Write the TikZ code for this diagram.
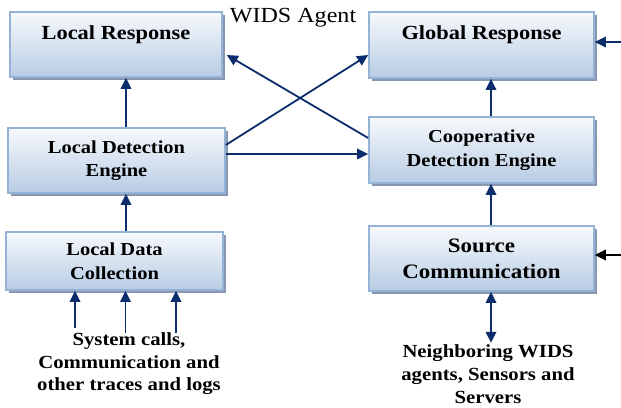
\documentclass[tikz,border=0pt]{standalone}
\usepackage{fontspec}
\setmainfont{Liberation Serif}
\usetikzlibrary{arrows.meta,shadows}
\definecolor{navy}{HTML}{0B2D6B}
\definecolor{boxedge}{HTML}{95B3D7}
\definecolor{boxtop}{HTML}{F6F9FC}
\definecolor{boxbot}{HTML}{B8CCE4}
\definecolor{boxshade}{HTML}{8797B0}
% slightly widened lettering
\newcommand{\wx}[1]{\scalebox{1.12}[1]{#1}}
\tikzset{
  panel/.style={rectangle, draw=boxedge, line width=1.6pt,
    top color=boxtop, bottom color=boxbot, align=center, inner sep=0pt,
    drop shadow={shadow xshift=3pt, shadow yshift=-3pt, fill=boxshade, opacity=1}},
  bigtxt/.style={font=\fontsize{20}{22}\selectfont\bfseries},
  midtxt/.style={font=\fontsize{18.3}{23.5}\selectfont\bfseries},
  toptext/.style={text height=22pt, text depth=33pt, inner ysep=5pt},
  tip/.style={Triangle[length=11pt,width=10.5pt]},
  arr/.style={-{Triangle[length=11pt,width=10.5pt]}, draw=navy, line width=1.8pt},
  dblarr/.style={{Triangle[length=11pt,width=10.5pt]}-{Triangle[length=11pt,width=10.5pt]}, draw=navy, line width=1.8pt},
  note/.style={font=\fontsize{18.5}{22.5}\selectfont\bfseries, align=center, inner sep=0pt}
}
\begin{document}
\begin{tikzpicture}[x=1pt, y=-1pt]
\useasboundingbox (0,0) rectangle (621,407);

% boxes
\node[panel, bigtxt, toptext, minimum width=212pt, minimum height=65pt] (lr) at (116,44.5) {\wx{Local Response}};
\node[panel, bigtxt, toptext, minimum width=225pt, minimum height=66pt] (gr) at (481.5,45) {\wx{Global Response}};
\node[panel, midtxt, minimum width=217pt, minimum height=65pt] (lde) at (116.5,160.5) {\wx{Local Detection}\\\wx{Engine}};
\node[panel, midtxt, minimum width=225pt, minimum height=66pt] (cde) at (481.5,150) {\wx{Cooperative}\\\wx{Detection Engine}};
\node[panel, midtxt, minimum width=217pt, minimum height=58pt] (ldc) at (114.5,261) {\wx{Local Data}\\\wx{Collection}};
\node[panel, font=\fontsize{20.5}{26}\selectfont\bfseries, minimum width=225pt, minimum height=65pt] (sc) at (481.5,258.5) {\wx{Source}\\\wx{Communication}};

% title
\node[font=\fontsize{21.5}{24}\selectfont, inner sep=0pt] (title) at (293,18) {\wx{WIDS Agent}};

% external sources
\node[note] (sys) at (129,364) {\wx{System calls,}\\\wx{Communication and}\\\wx{other traces and logs}};
\node[note, font=\fontsize{18.5}{23}\selectfont\bfseries] (nb) at (488,374.5) {\wx{Neighboring WIDS}\\\wx{agents, Sensors and}\\\wx{Servers}};

% column guides
\coordinate (colL) at (126,0);
\coordinate (colR) at (491,0);
\coordinate (in1) at (75,0);
\coordinate (in2) at (125.5,0);
\coordinate (in3) at (176,0);
\coordinate (extG) at (621,42);
\coordinate (extS) at (621,255);

% vertical flows
\draw[arr] (lde.north -| colL) -- (lr.south -| colL);
\draw[arr] (ldc.north -| colL) -- (lde.south -| colL);
\draw[arr] (cde.north -| colR) -- (gr.south -| colR);
\draw[arr] (sc.north -| colR) -- (cde.south -| colR);
\draw[dblarr] (sc.south -| colR) -- ([yshift=2pt]nb.north -| colR);

% raw inputs into the collector
\draw[arr] ([yshift=5pt]sys.north -| in1) -- (ldc.south -| in1);
\draw[arr] (sys.north -| in2) -- (ldc.south -| in2);
\draw[arr] (sys.north -| in3) -- (ldc.south -| in3);

% cross links
\draw[arr] ([yshift=6.5pt]lde.east) -- ([yshift=6.5pt]lde.east -| cde.west);
\draw[arr] ([yshift=15.5pt]lde.east) -- ([yshift=-10pt]gr.west);
\draw[arr] ([yshift=12pt]cde.west) -- ([xshift=4pt,yshift=-10.5pt]lr.east);

% links from outside the agent
\draw[arr] (extG) -- (extG -| gr.east);
\draw[arr, draw=black] (extS) -- (extS -| sc.east);
\end{tikzpicture}
\end{document}
